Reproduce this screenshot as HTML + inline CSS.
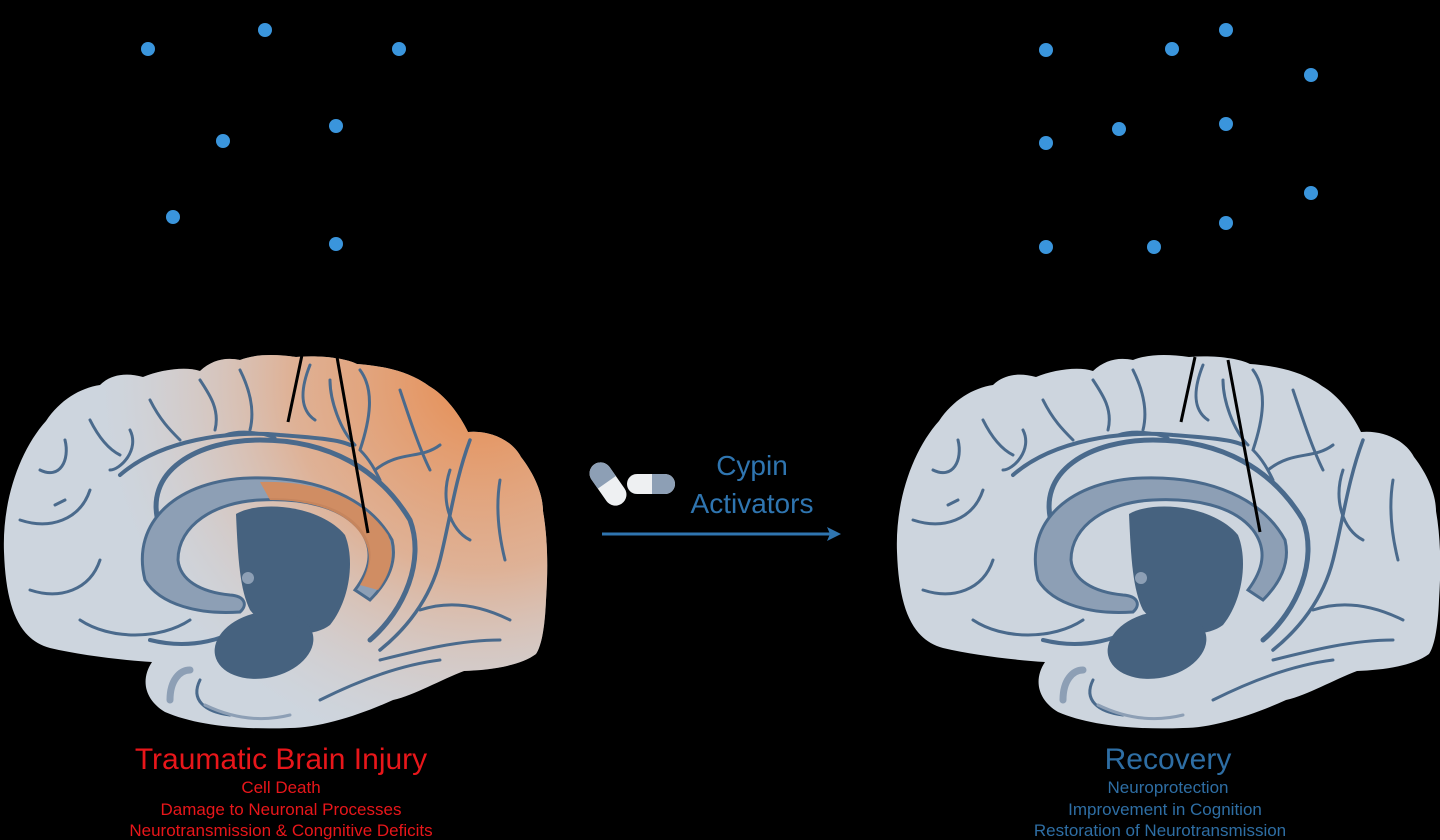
<!DOCTYPE html>
<html><head><meta charset="utf-8"><style>
html,body{margin:0;padding:0;background:#000;}
body{width:1440px;height:840px;overflow:hidden;position:relative;font-family:"Liberation Sans",sans-serif;}
svg{position:absolute;left:0;top:0;}
</style></head><body>
<svg width="1440" height="840" viewBox="0 0 1440 840" xmlns="http://www.w3.org/2000/svg">
<defs>
<radialGradient id="org" cx="480" cy="380" r="380" gradientUnits="userSpaceOnUse">
<stop offset="0" stop-color="#e8894a" stop-opacity="0.95"/>
<stop offset="0.5" stop-color="#e6a277" stop-opacity="0.7"/>
<stop offset="1" stop-color="#dcc8c0" stop-opacity="0"/>
</radialGradient>
<path id="outline" d="M4 552 C2 500 20 450 46 421 C60 400 80 388 100 385 C110 375 125 372 143 377 C160 370 185 366 200 371 C212 360 225 357 240 360 C255 354 275 354 296 357 C320 355 345 358 357 364 C385 366 410 372 429 386 C445 395 460 415 468 432 C490 430 512 440 521 457 C535 475 543 495 543 511 C548 540 548 570 546 600 C545 625 542 645 536 654 C520 666 490 670 464 671 C440 680 415 695 393 700 C360 715 320 728 290 728 C240 730 195 725 165 712 C145 700 140 680 152 662 C120 660 80 655 50 648 C20 640 6 610 4 552 Z"/>
<clipPath id="clipB"><use href="#outline"/></clipPath>
<g id="inner">
<g fill="none" stroke="#4a6a8c" stroke-width="3" stroke-linecap="round">
<path d="M160 528 C140 470 200 440 260 440 C330 440 380 470 410 520 C425 560 405 610 370 640" stroke-width="5"/>
<path d="M150 640 C190 650 230 640 250 620" stroke-width="4"/>
<path d="M80 620 C110 640 160 640 190 620"/>
<path d="M30 590 C60 600 90 590 100 560"/>
<path d="M20 520 C50 530 80 520 90 490"/>
<path d="M40 470 C60 480 70 460 65 440"/>
<path d="M55 505 L65 500"/>
<path d="M90 420 C100 440 110 450 120 455"/>
<path d="M150 400 C160 420 170 430 180 440"/>
<path d="M130 430 C140 450 120 470 110 470"/>
<path d="M200 380 C210 395 220 410 215 430"/>
<path d="M240 370 C250 390 255 410 250 430"/>
<path d="M120 475 C160 440 230 430 280 435 C320 438 340 440 350 445" stroke-width="4"/>
<path d="M225 435 C240 430 260 432 275 438"/>
<path d="M310 365 C300 390 300 410 315 420"/>
<path d="M330 380 C330 400 340 430 355 445"/>
<path d="M360 370 C375 390 370 420 360 450 C370 460 375 470 380 480"/>
<path d="M375 470 C400 450 420 460 440 445"/>
<path d="M400 390 C410 420 420 450 430 470"/>
<path d="M450 470 C440 500 450 530 470 540"/>
<path d="M470 440 C455 480 450 520 440 560 C430 600 405 630 380 650" stroke-width="3.5"/>
<path d="M500 480 C495 510 500 540 505 560"/>
<path d="M420 610 C450 600 480 605 510 620"/>
<path d="M380 660 C420 650 460 640 500 640"/>
<path d="M320 700 C360 680 400 665 440 660"/>
<path d="M200 680 C190 700 205 712 230 715"/>
<path d="M170 600 C200 615 230 610 240 600"/>
<path d="M170 700 C170 680 180 670 190 670" stroke="#8d9fb5" stroke-width="7"/>
<path d="M205 705 C240 722 270 720 290 715" stroke="#8d9fb5" stroke-width="3"/>
</g>
<path d="M145 580 C130 520 180 480 250 478 C320 476 370 500 392 540 C398 565 385 585 370 600 L355 590 C370 570 375 550 360 530 C340 505 300 498 260 500 C215 502 178 525 178 560 C180 580 200 592 230 595 C245 596 248 605 240 612 C200 615 160 605 145 580 Z" fill="#8d9fb5" stroke="#4a6a8c" stroke-width="3"/>
<path d="M236 514 C260 500 320 505 345 535 C355 560 350 600 330 625 C310 640 270 635 250 610 C240 590 238 560 236 514 Z" fill="#46627f"/>
<ellipse cx="264" cy="645" rx="50" ry="33" fill="#46627f" transform="rotate(-12 264 645)"/>
<circle cx="248" cy="578" r="6" fill="#8d9fb5"/>
</g>
</defs>

<use href="#outline" fill="#cdd5de"/>
<rect x="0" y="340" width="560" height="400" fill="url(#org)" clip-path="url(#clipB)"/>
<use href="#inner"/>
<path d="M260 482 C320 480 365 500 388 535 C396 555 390 575 378 590 L360 585 C372 565 372 548 358 530 C340 508 305 500 270 500 Z" fill="#dc8a55" opacity="0.85"/>
<line x1="302" y1="355" x2="288" y2="422" stroke="#000" stroke-width="3"/>
<line x1="337" y1="357" x2="368" y2="533" stroke="#000" stroke-width="3"/>

<g transform="translate(893,0)">
<use href="#outline" fill="#cdd5de"/>
<use href="#inner"/>
</g>
<line x1="1195" y1="357" x2="1181" y2="422" stroke="#000" stroke-width="3"/>
<line x1="1228" y1="360" x2="1260" y2="532" stroke="#000" stroke-width="3"/>

<g fill="#3a95dc">
<circle cx="148" cy="49" r="7"/><circle cx="265" cy="30" r="7"/><circle cx="399" cy="49" r="7"/>
<circle cx="223" cy="141" r="7"/><circle cx="336" cy="126" r="7"/><circle cx="173" cy="217" r="7"/><circle cx="336" cy="244" r="7"/>
<circle cx="1046" cy="50" r="7"/><circle cx="1172" cy="49" r="7"/><circle cx="1226" cy="30" r="7"/><circle cx="1311" cy="75" r="7"/>
<circle cx="1046" cy="143" r="7"/><circle cx="1119" cy="129" r="7"/><circle cx="1226" cy="124" r="7"/><circle cx="1311" cy="193" r="7"/>
<circle cx="1046" cy="247" r="7"/><circle cx="1154" cy="247" r="7"/><circle cx="1226" cy="223" r="7"/>
</g>

<g transform="rotate(-35 608 484)">
<rect x="597" y="460" width="22" height="48" rx="11" fill="#eef0f2"/>
<path d="M597 471 A11 11 0 0 1 619 471 L619 482 L597 482 Z" fill="#8d9fb5"/>
</g>
<rect x="627" y="474" width="48" height="20" rx="10" fill="#eef0f2"/>
<path d="M652 474 L665 474 A10 10 0 0 1 665 494 L652 494 Z" fill="#8d9fb5"/>

<text x="752" y="475" fill="#2f75b0" font-size="28" text-anchor="middle" font-family="Liberation Sans, sans-serif">Cypin</text>
<text x="752" y="513" fill="#2f75b0" font-size="28" text-anchor="middle" font-family="Liberation Sans, sans-serif">Activators</text>
<line x1="602" y1="534" x2="830" y2="534" stroke="#2f75b0" stroke-width="3"/>
<path d="M841 534 L827 527 L830 534 L827 541 Z" fill="#2f75b0"/>

<g font-family="Liberation Sans, sans-serif" text-anchor="middle">
<text x="281" y="769" fill="#e8161a" font-size="30">Traumatic Brain Injury</text>
<text x="281" y="793" fill="#e8161a" font-size="17">Cell Death</text>
<text x="281" y="815" fill="#e8161a" font-size="17">Damage to Neuronal Processes</text>
<text x="281" y="836" fill="#e8161a" font-size="17">Neurotransmission &amp; Congnitive Deficits</text>
<text x="1168" y="769" fill="#2e6ea4" font-size="30">Recovery</text>
<text x="1168" y="793" fill="#2e6ea4" font-size="17">Neuroprotection</text>
<text x="1165" y="815" fill="#2e6ea4" font-size="17">Improvement in Cognition</text>
<text x="1160" y="836" fill="#2e6ea4" font-size="17">Restoration of Neurotransmission</text>
</g>
</svg>
</body></html>
